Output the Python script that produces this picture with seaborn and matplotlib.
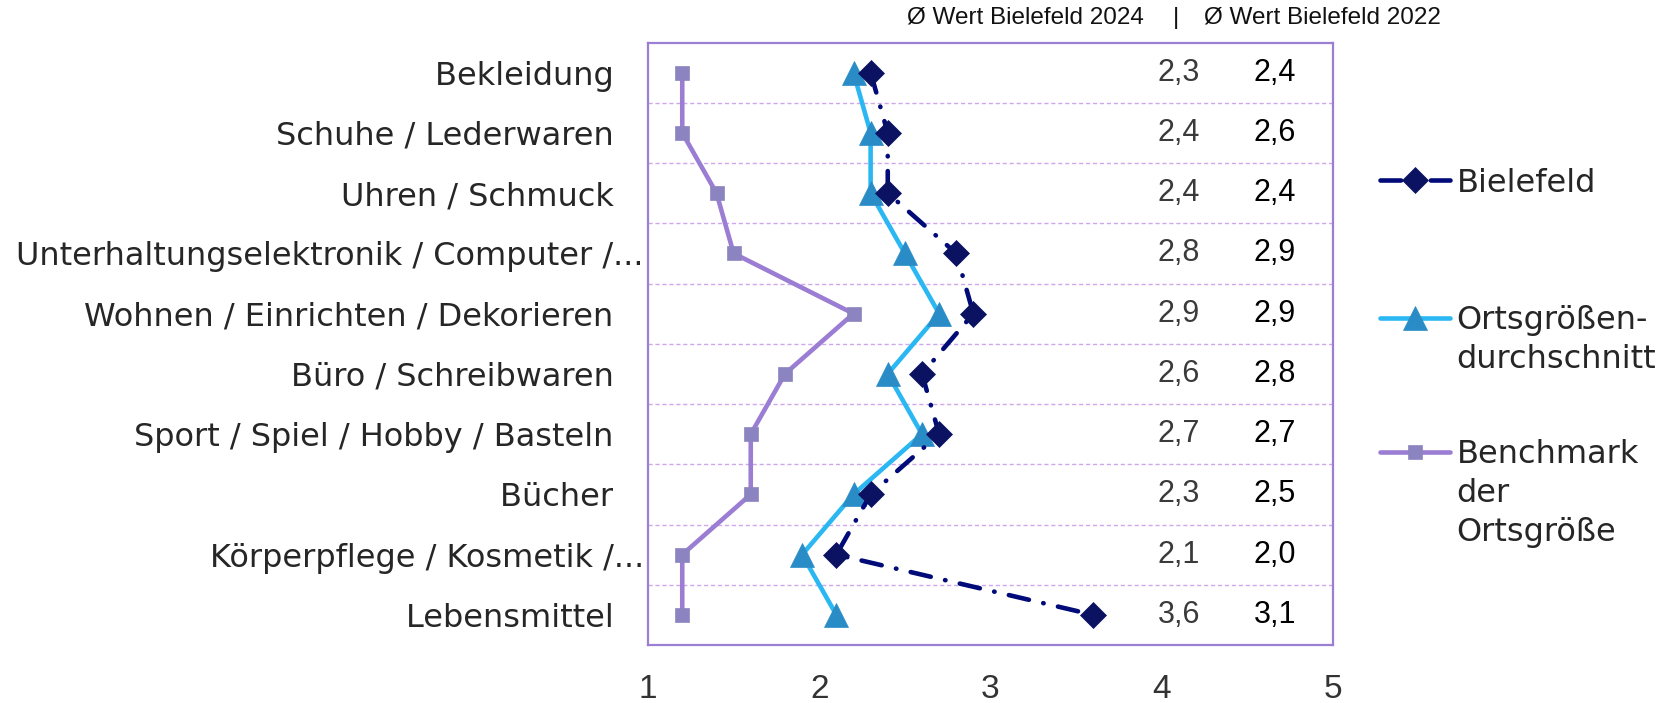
import numpy as np
import pandas as pd
import seaborn as sns
import matplotlib.pyplot as plt
import matplotlib.transforms as mtrans
from matplotlib.lines import Line2D

# ---------------- data ----------------
categories = [
    "Bekleidung",
    "Schuhe / Lederwaren",
    "Uhren / Schmuck",
    "Unterhaltungselektronik / Computer /...",
    "Wohnen / Einrichten / Dekorieren",
    "Büro / Schreibwaren",
    "Sport / Spiel / Hobby / Basteln",
    "Bücher",
    "Körperpflege / Kosmetik /...",
    "Lebensmittel",
]
bielefeld = [2.3, 2.4, 2.4, 2.8, 2.9, 2.6, 2.7, 2.3, 2.1, 3.6]
ortsgroesse = [2.2, 2.3, 2.3, 2.5, 2.7, 2.4, 2.6, 2.2, 1.9, 2.1]
benchmark = [1.2, 1.2, 1.4, 1.5, 2.2, 1.8, 1.6, 1.6, 1.2, 1.2]
wert_2024 = [2.3, 2.4, 2.4, 2.8, 2.9, 2.6, 2.7, 2.3, 2.1, 3.6]
wert_2022 = [2.4, 2.6, 2.4, 2.9, 2.9, 2.8, 2.7, 2.5, 2.0, 3.1]
x_ticks = [1, 2, 3, 4, 5]
series_labels = ["Bielefeld", "Ortsgrößen-\ndurchschnitt", "Benchmark\nder\nOrtsgröße"]
header_left = "Ø Wert Bielefeld 2024"
header_right = "Ø Wert Bielefeld 2022"

# ---------------- style ----------------
sns.set_theme(style="white")
plt.rcParams["font.family"] = ["DejaVu Sans"]

W, H = 1666, 703
fig, ax = plt.subplots(figsize=(W / 100, H / 100), dpi=100)
fig.subplots_adjust(left=648 / W, right=1333 / W, bottom=1 - 645 / H, top=1 - 42.5 / H)

pos = np.arange(len(categories))
df = pd.DataFrame({"pos": pos, "bielefeld": bielefeld,
                   "ortsgroesse": ortsgroesse, "benchmark": benchmark})

C_BIE_LINE, C_BIE_MK = "#000a78", "#0b1262"
C_ORT_LINE, C_ORT_MK = "#2bb8f2", "#2a8cc6"
C_BEN_LINE, C_BEN_MK = "#9b7dd3", "#8c84c0"
LW = 3.3
bie_style = dict(color=C_BIE_LINE, lw=LW, linestyle=(0, (4.5, 3.2, 0.1, 3.2)),
                 dash_capstyle="round", marker="D", ms=13, mfc=C_BIE_MK, mec=C_BIE_MK, mew=0.5)
ort_style = dict(color=C_ORT_LINE, lw=LW, linestyle="-", solid_capstyle="round",
                 marker="^", ms=17, mfc=C_ORT_MK, mec=C_ORT_MK, mew=0.5)
ben_style = dict(color=C_BEN_LINE, lw=LW, linestyle="-", solid_capstyle="round",
                 marker="s", ms=10.5, mfc=C_BEN_MK, mec=C_BEN_MK, mew=0.5)

sns.lineplot(data=df, x="benchmark", y="pos", orient="y", sort=False, errorbar=None,
             ax=ax, zorder=3, **ben_style)
sns.lineplot(data=df, x="ortsgroesse", y="pos", orient="y", sort=False, errorbar=None,
             ax=ax, zorder=4, **ort_style)
sns.lineplot(data=df, x="bielefeld", y="pos", orient="y", sort=False, errorbar=None,
             ax=ax, zorder=5, **bie_style)

ax.set_xlim(1, 5)
ax.set_ylim(len(categories) - 0.5, -0.5)
ax.set_xlabel("")
ax.set_ylabel("")

# axes frame
for sp in ax.spines.values():
    sp.set_color("#9b7fd4")
    sp.set_linewidth(1.6)

# ticks
ax.set_xticks(x_ticks)
ax.set_xticklabels([str(t) for t in x_ticks], fontsize=24, family="Liberation Sans", color="#333333")
ax.tick_params(axis="x", length=0, pad=21)
ax.set_yticks(pos)
ax.set_yticklabels([c if c.endswith("...") else c + "   " for c in categories],
                   fontsize=23, color="#262626")
ax.tick_params(axis="y", length=0, pad=3)

# grid between categories
ax.set_yticks(pos[:-1] + 0.5, minor=True)
ax.tick_params(axis="y", which="minor", length=0)
ax.grid(False)
ax.grid(which="minor", axis="y", color="#cfa8ec", linestyle=(0, (3, 2)), linewidth=1.0)

# value columns
tr = mtrans.blended_transform_factory(ax.transAxes, ax.transData)
for i in range(len(categories)):
    ax.text(0.775, pos[i], f"{wert_2024[i]:.1f}".replace(".", ","), transform=tr,
            ha="center", va="center", fontsize=22, family="Liberation Sans", color="#3a3a3a")
    ax.text(0.915, pos[i], f"{wert_2022[i]:.1f}".replace(".", ","), transform=tr,
            ha="center", va="center", fontsize=22, family="Liberation Sans", color="#000000")

# header
fig.text(1025 / W, 1 - 18 / H, header_left, ha="center", va="center",
         fontsize=17.5, family="Liberation Sans", color="#111111")
fig.text(1176 / W, 1 - 18 / H, "|", ha="center", va="center",
         fontsize=17.5, family="Liberation Sans", color="#111111")
fig.text(1322 / W, 1 - 18 / H, header_right, ha="center", va="center",
         fontsize=17.5, family="Liberation Sans", color="#111111")

# legend (three blocks, handle aligned with first line)
def handle(style):
    return Line2D([0], [0], **style)

blank = Line2D([0], [0], linestyle="none", marker="none")

def add_legend(handles, labels, y_center):
    fig.legend(handles, labels, loc="center left",
               bbox_to_anchor=(1380 / W, 1 - y_center / H),
               frameon=False, borderpad=0, borderaxespad=0, handlelength=2.2,
               handletextpad=0.2, labelspacing=0.26,
               prop=dict(family="DejaVu Sans", size=23), labelcolor="#262626")

lab0 = series_labels[0].split("\n")
lab1 = series_labels[1].split("\n")
lab2 = series_labels[2].split("\n")
add_legend([handle(bie_style)], lab0, 183)
add_legend([handle(ort_style)] + [blank] * (len(lab1) - 1), lab1, 340)
add_legend([handle(ben_style)] + [blank] * (len(lab2) - 1), lab2, 493.5)

fig.savefig("out.png", dpi=100)
